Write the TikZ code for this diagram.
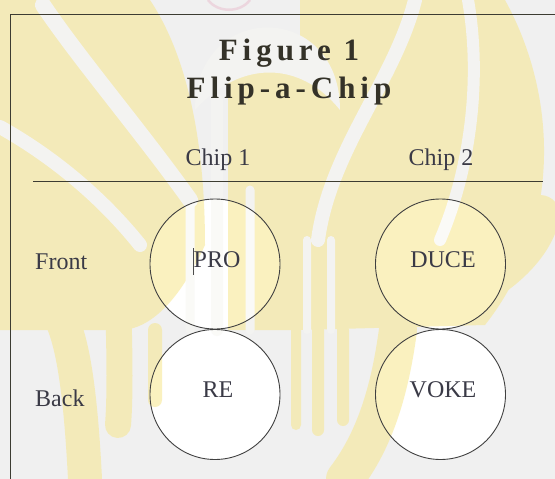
\documentclass[tikz,border=0pt]{standalone}
\usepackage{fontspec}
\setmainfont{Liberation Serif}
\newfontfamily\titlefont[LetterSpace=16]{Liberation Serif}
\definecolor{bgc}{RGB}{240,240,240}
\definecolor{wmy}{RGB}{247,230,140}
\definecolor{wmw}{RGB}{246,246,242}
\definecolor{inkc}{RGB}{58,58,70}
\definecolor{titlec}{RGB}{52,50,40}
\definecolor{framec}{RGB}{60,60,50}
\definecolor{pinkc}{RGB}{236,214,222}
\tikzset{
  wmfill/.style={fill=wmy},
  wmband/.style={draw=wmy, line cap=round},
  wmstripe/.style={draw=wmw, line cap=round},
  chipbase/.style={circle, fill=white, draw=none, minimum size=130pt, inner sep=0pt},
  chipring/.style={circle, draw=black!75, line width=0.9pt, minimum size=130pt, inner sep=0pt},
  lbl/.style={anchor=base, inner sep=0pt, text=inkc, font=\fontsize{24}{24}\selectfont},
  ttl/.style={anchor=base, inner sep=0pt, text=titlec, font=\fontsize{31}{31}\selectfont\titlefont\bfseries},
}
\begin{document}
\begin{tikzpicture}[x=1pt, y=-1pt]
\useasboundingbox (0,0) rectangle (555,479);
% page
\fill[bgc] (0,0) rectangle (555,479);
% white chip faces
\node[chipbase] (f1) at (215,264) {};
\node[chipbase] (b1) at (215,394.5) {};
\node[chipbase] (f2) at (440.5,264) {};
\node[chipbase] (b2) at (440.5,394.5) {};
% watermark (semi-transparent overlay)
\begin{scope}[transparency group, opacity=0.55]
\fill[wmfill] (0,0) -- (150,0) .. controls (190,60) and (205,150) .. (205,245) .. controls (180,300) and (150,330) .. (120,330) -- (0,330) -- cycle;
\fill[wmfill] (228,60) rectangle (300,330);
\fill[wmfill] (300,0) -- (505,0) .. controls (560,100) and (560,230) .. (485,325) -- (300,330) -- cycle;
% dome behind the title
\fill[wmw] (195,110) .. controls (195,0) and (340,0) .. (340,110) .. controls (300,60) and (240,60) .. cycle;
% lower bands
\draw[wmband, line width=34pt] (20,300) -- (45,300) .. controls (70,310) and (80,380) .. (85,479);
\draw[wmband, line width=26pt] (118,300) .. controls (120,360) and (120,400) .. (118,425);
\draw[wmband, line width=38pt] (398,330) .. controls (390,390) and (375,440) .. (345,479);
\draw[wmband, line width=10pt] (296,330) -- (296,425);
\draw[wmband, line width=12pt] (318,330) -- (318,430);
\draw[wmband, line width=12pt] (343,330) -- (343,420);
\draw[wmband, line width=14pt] (155,330) -- (155,400);
\draw[wmband, line width=40pt] (470,290) .. controls (510,270) and (535,240) .. (540,215);
% soft stripes
\draw[wmstripe, line width=16pt] (43,5) .. controls (80,60) and (140,130) .. (190,200);
\draw[wmstripe, line width=14pt] (0,127) .. controls (50,155) and (100,195) .. (140,245);
\draw[wmstripe, line width=12pt] (217,100) -- (217,330);
\draw[wmstripe, line width=9pt] (190,200) -- (190,330);
\draw[wmstripe, line width=9pt] (250,190) -- (250,330);
\draw[wmstripe, line width=14pt] (415,0) .. controls (395,80) and (330,150) .. (318,240);
\draw[wmstripe, line width=12pt] (468,0) .. controls (482,80) and (470,170) .. (440,240);
\draw[wmstripe, line width=8pt] (307,240) -- (307,330);
\draw[wmstripe, line width=8pt] (331,240) -- (331,330);
\end{scope}
\draw[pinkc, line width=2.5pt] (208,0) .. controls (218,13) and (240,13) .. (250,0);
% frame
\coordinate (ftr) at (555,14);
\coordinate (ftl) at (10,14);
\coordinate (fbl) at (10,479);
\draw[framec, line width=0.9pt] (ftr) -- (ftl) -- (fbl);
% titles
\node[ttl] (t1) at (289,60) {Figure 1};
\node[ttl] (t2) at (289,98) {Flip-a-Chip};
% column heads
\node[lbl] (c1) at (218,165) {Chip 1};
\node[lbl] (c2) at (441,165) {Chip 2};
\coordinate (hl) at (33,181);
\coordinate (hr) at (543,181);
\draw[framec, line width=0.9pt] (hl) -- (hr);
% row heads
\node[lbl, anchor=base west] (front) at (35,269) {Front};
\node[lbl, anchor=base west] (back) at (35,406) {Back};
% chip outlines
\node[chipring] (f1r) at (f1) {};
\node[chipring] (b1r) at (b1) {};
\node[chipring] (f2r) at (f2) {};
\node[chipring] (b2r) at (b2) {};
% chip texts
\node[lbl] (pro) at (217,267) {PRO};
\node[lbl] (duce) at (443,267) {DUCE};
\node[lbl] (re) at (218,397) {RE};
\node[lbl] (voke) at (443,397) {VOKE};
% text cursor
\coordinate (cu1) at (193,248);
\coordinate (cu2) at (193,275);
\draw[black!70, line width=0.8pt] (cu1) -- (cu2);
\end{tikzpicture}
\end{document}
